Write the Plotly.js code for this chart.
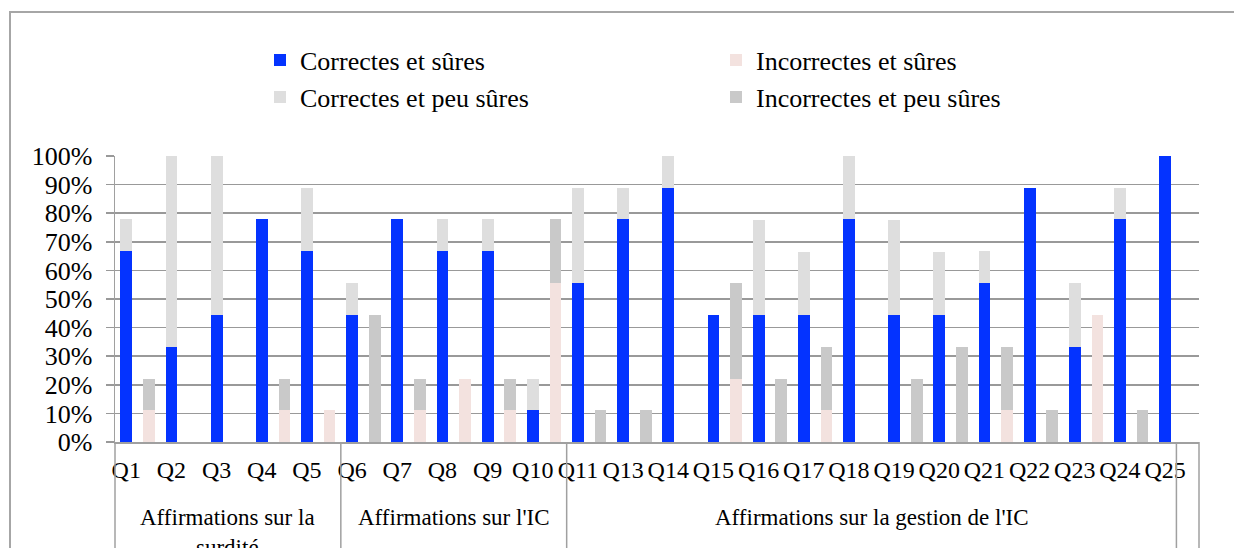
<!DOCTYPE html>
<html>
<head>
<meta charset="utf-8">
<script src="https://cdn.plot.ly/plotly-3.0.1.min.js"></script>
<style>
  html, body { margin: 0; padding: 0; background: #fff; overflow: hidden; }
  #chart { width: 1234px; height: 548px; }
  #frame { position: absolute; left: 9px; top: 11px; width: 1300px; height: 700px;
           border: 2px solid #a6a6a6; pointer-events: none; }
</style>
</head>
<body>
<div id="chart"></div>
<div id="frame"></div>
<script>
// Questions (no Q12 in the source)
const questions = ['Q1','Q2','Q3','Q4','Q5','Q6','Q7','Q8','Q9','Q10','Q11','Q13','Q14','Q15','Q16','Q17','Q18','Q19','Q20','Q21','Q22','Q23','Q24','Q25'];
// Groups of questions
const groupNames = ['Affirmations sur la<br>surdité', "Affirmations sur l'IC", "Affirmations sur la gestion de l'IC"];
const groupSizes = [5, 5, 14];
// Series (percent of respondents)
const correctSure      = [66.7,33.3,44.4,77.8,66.7,44.4,77.8,66.7,66.7,11.1,55.6,77.8,88.9,44.4,44.4,44.4,77.8,44.4,44.4,55.6,88.9,33.3,77.8,100];
const correctUnsure    = [11.1,66.7,55.6,0,22.2,11.1,0,11.1,11.1,11.1,33.3,11.1,11.1,0,33.3,22.2,22.2,33.3,22.2,11.1,0,22.2,11.1,0];
const incorrectSure    = [11.1,0,0,11.1,11.1,0,11.1,22.2,11.1,55.6,0,0,0,22.2,0,11.1,0,0,0,11.1,0,44.4,0,0];
const incorrectUnsure  = [11.1,0,0,11.1,0,44.4,11.1,0,11.1,22.2,11.1,11.1,0,33.3,22.2,22.2,0,22.2,33.3,22.2,11.1,0,11.1,0];
const yTicks = [0,10,20,30,40,50,60,70,80,90,100];
const yTickLabels = ['0%','10%','20%','30%','40%','50%','60%','70%','80%','90%','100%'];

const FONT = 'Liberation Serif';
const idx = questions.map((q, i) => i);
const xCorrect = idx;
const xIncorrect = idx.map(i => i + 0.5);
const BW = 0.26;

const traces = [
  {type:'bar', name:'Correctes et sûres', x:xCorrect, y:correctSure, width:BW,
   marker:{color:'#0433ff'}, legend:'legend', hoverinfo:'skip'},
  {type:'bar', name:'Correctes et peu sûres', x:xCorrect, y:correctUnsure, width:BW,
   marker:{color:'#dedede'}, legend:'legend2', hoverinfo:'skip'},
  {type:'bar', name:'Incorrectes et sûres', x:xIncorrect, y:incorrectSure, width:BW,
   marker:{color:'#f3e2df'}, legend:'legend', hoverinfo:'skip'},
  {type:'bar', name:'Incorrectes et peu sûres', x:xIncorrect, y:incorrectUnsure, width:BW,
   marker:{color:'#c9c9c9'}, legend:'legend2', hoverinfo:'skip'}
];

const xr = [-0.25, questions.length - 0.25];
const toPaper = v => (v - xr[0]) / (xr[1] - xr[0]);

// group boundaries
const bounds = [xr[0]];
let acc = xr[0];
groupSizes.forEach((n, k) => { acc += n; bounds.push(k === groupSizes.length - 1 ? acc - 0.5 : acc); });
const shapes = [];
bounds.concat([xr[1]]).forEach(b => {
  shapes.push({type:'line', xref:'paper', yref:'paper', x0:toPaper(b), x1:toPaper(b), y0:0, y1:-0.45,
               line:{color:'#a0a0a0', width:1.5}});
});
const TXT = {family:FONT, size:24, color:'#000'};
const GRP = {family:FONT, size:23, color:'#000'};
const BIG = {family:FONT, size:26, color:'#000'};
const annotations = groupNames.map((g, k) => ({
  xref:'x', yref:'paper', x:(bounds[k] + bounds[k+1]) / 2, y:-0.215, yanchor:'top', xanchor:'center',
  text:g, showarrow:false, font:GRP
}));

const legendBase = {orientation:'h', xref:'container', yref:'container', x:260/1234, yanchor:'middle', xanchor:'left',
  entrywidth:411, entrywidthmode:'pixels', font:BIG, bgcolor:'rgba(0,0,0,0)', traceorder:'normal'};

const layout = {
  width:1234, height:548,
  margin:{l:115, r:35, t:156, b:106},
  paper_bgcolor:'#fff', plot_bgcolor:'#fff',
  barmode:'stack',
  font:TXT,
  xaxis:{range:xr, tickvals:idx, ticktext:questions, showgrid:false, zeroline:false,
         showline:true, linecolor:'#a0a0a0', linewidth:1.5,
         ticks:'outside', ticklen:6, tickcolor:'rgba(0,0,0,0)',
         tickfont:TXT, fixedrange:true},
  yaxis:{range:[0,100], tickvals:yTicks, ticktext:yTickLabels, showgrid:true, gridcolor:'#999', gridwidth:1.5,
         zeroline:false, showline:true, linecolor:'#a0a0a0', linewidth:1.5,
         ticks:'outside', ticklen:8, tickcolor:'#999', tickwidth:1.5, ticklabelstandoff:8,
         tickfont:BIG, fixedrange:true},
  legend:Object.assign({}, legendBase, {y:1-60/548}),
  legend2:Object.assign({}, legendBase, {y:1-97/548}),
  showlegend:true,
  shapes:shapes,
  annotations:annotations
};

Plotly.newPlot('chart', traces, layout, {displayModeBar:false, staticPlot:true});
</script>
</body>
</html>
